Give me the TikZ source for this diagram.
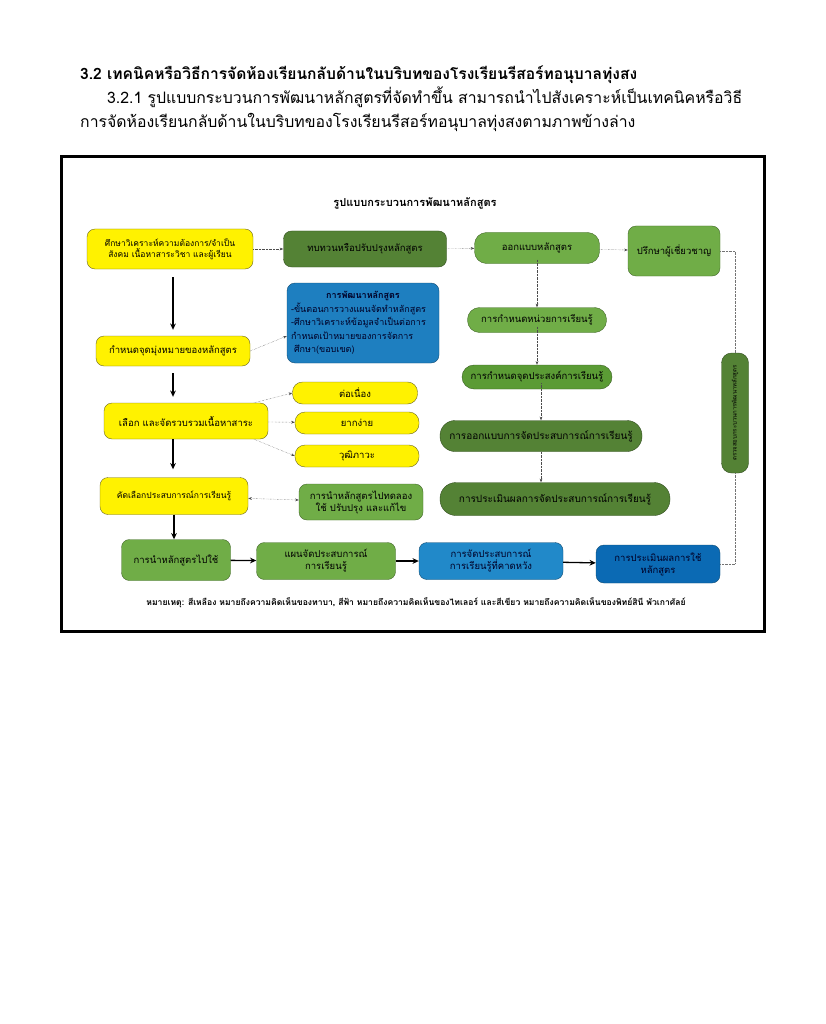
\documentclass[tikz,border=0pt]{standalone}
\usepackage{fontspec}
\setmainfont{Loma}[Script=Thai]
\usetikzlibrary{arrows.meta, positioning, calc}

\definecolor{lgr}{HTML}{70AD47}
\definecolor{mgr}{HTML}{5B9B35}
\definecolor{dgr}{HTML}{548235}
\definecolor{bl}{HTML}{1E7FC0}
\definecolor{bla}{HTML}{2189C9}
\definecolor{blb}{HTML}{0B6AB4}

\begin{document}
\begin{tikzpicture}[x=1pt, y=-1pt,
  box/.style={draw, rounded corners=8pt, align=center, inner sep=2pt, font=\fontsize{9.5}{12}\selectfont},
  yel/.style={box, fill=yellow, draw=olive!70!black},
  lgreen/.style={box, fill=lgr, draw=lgr!60!black},
  mgreen/.style={box, fill=mgr, draw=mgr!60!black},
  dgreen/.style={box, fill=dgr, draw=dgr!60!black},
  blu/.style={box, draw=bl!60!black, text=blue!15!black},
  flow/.style={-{Stealth[length=2.2mm, width=2mm]}, line width=1.3pt},
  link/.style={-{Stealth[length=1.3mm]}, densely dotted, black!70},
  back/.style={densely dotted, black!55}
]
  \useasboundingbox (0,0) rectangle (825,1024);

  % Heading text
  \node[anchor=base west, font=\bfseries\fontsize{15.6}{18}\selectfont, inner sep=0] (sec) at (80,80)
    {3.2 เทคนิคหรือวิธีการจัดห้องเรียนกลับด้านในบริบทของโรงเรียนรีสอร์ทอนุบาลทุ่งสง};
  \node[anchor=base west, font=\fontsize{15.8}{18}\selectfont, inner sep=0] (par1) at (107,104)
    {3.2.1 รูปแบบกระบวนการพัฒนาหลักสูตรที่จัดทำขึ้น สามารถนำไปสังเคราะห์เป็นเทคนิคหรือวิธี};
  \node[anchor=base west, font=\fontsize{15.8}{18}\selectfont, inner sep=0] (par2) at (80,128)
    {การจัดห้องเรียนกลับด้านในบริบทของโรงเรียนรีสอร์ทอนุบาลทุ่งสงตามภาพข้างล่าง};

  % Frame
  \draw[line width=3pt] (61,157) rectangle (764,631);

  \node[font=\bfseries\fontsize{11}{13}\selectfont] (title) at (415,203) {รูปแบบกระบวนการพัฒนาหลักสูตร};

  % Left column (yellow)
  \node[yel, minimum width=166pt, minimum height=40pt, font=\fontsize{8.5}{11.5}\selectfont] (study) at (170,249)
    {ศึกษาวิเคราะห์ความต้องการ/จำเป็น\\สังคม เนื้อหาสาระวิชา และผู้เรียน};
  \node[yel, minimum width=154pt, minimum height=30pt] (aim) at (173,351) {กำหนดจุดมุ่งหมายของหลักสูตร};
  \node[yel, minimum width=164pt, minimum height=36pt] (select) at (186,421) {เลือก และจัดรวบรวมเนื้อหาสาระ};
  \node[yel, minimum width=148pt, minimum height=37pt, font=\fontsize{8.5}{11}\selectfont] (exper) at (174,496) {คัดเลือกประสบการณ์การเรียนรู้};

  % Content criteria
  \node[yel, rounded corners=10pt, minimum width=125pt, minimum height=22pt] (cont) at (355,393) {ต่อเนื่อง};
  \node[yel, rounded corners=10pt, minimum width=124pt, minimum height=22pt] (diff) at (357,423) {ยากง่าย};
  \node[yel, rounded corners=10pt, minimum width=124pt, minimum height=22pt] (matur) at (357,456) {วุฒิภาวะ};

  % Middle column
  \node[dgreen, minimum width=163pt, minimum height=36pt] (review) at (365,249) {ทบทวนหรือปรับปรุงหลักสูตร};
  \node[blu, fill=bl, minimum width=152pt, minimum height=80pt, text width=144pt, inner sep=4pt, align=left,
        font=\fontsize{9}{13.5}\selectfont] (devel) at (363,323)
    {\makebox[144pt]{\textbf{การพัฒนาหลักสูตร}}\\-ขั้นตอนการวางแผนจัดทำหลักสูตร\\ -ศึกษาวิเคราะห์ข้อมูลจำเป็นต่อการ\\ กำหนดเป้าหมายของการจัดการ\\ \ ศึกษา(ขอบเขต)};
  \node[lgreen, minimum width=124pt, minimum height=36pt] (trial) at (361,502)
    {การนำหลักสูตรไปทดลอง\\ใช้ ปรับปรุง และแก้ไข};

  % Design column
  \node[lgreen, rounded corners=12pt, minimum width=125pt, minimum height=31pt] (design) at (537,248) {ออกแบบหลักสูตร};
  \node[lgreen, rounded corners=12pt, minimum width=139pt, minimum height=25pt] (unit) at (537,320) {การกำหนดหน่วยการเรียนรู้};
  \node[mgreen, rounded corners=12pt, minimum width=150pt, minimum height=24pt] (objec) at (537,377) {การกำหนดจุดประสงค์การเรียนรู้};
  \node[dgreen, rounded corners=15pt, minimum width=202pt, minimum height=31pt, font=\fontsize{10}{12}\selectfont] (plan) at (541,436) {การออกแบบการจัดประสบการณ์การเรียนรู้};
  \node[dgreen, rounded corners=16pt, minimum width=230pt, minimum height=33pt, font=\fontsize{10}{12}\selectfont] (assess) at (555,499) {การประเมินผลการจัดประสบการณ์การเรียนรู้};

  % Right column
  \node[lgreen, minimum width=92pt, minimum height=50pt] (advice) at (674,251) {ปรึกษาผู้เชี่ยวชาญ};
  \node[dgreen, rotate=90, rounded corners=10pt, minimum width=120pt, minimum height=27pt, font=\fontsize{6}{7}\selectfont] (check) at (735,413)
    {ตรวจสอบกระบวนการพัฒนาหลักสูตร};

  % Bottom row
  \node[lgreen, minimum width=109pt, minimum height=41pt] (apply) at (176,560) {การนำหลักสูตรไปใช้};
  \node[lgreen, minimum width=139pt, minimum height=37pt] (lesson) at (326,561) {แผนจัดประสบการณ์\\การเรียนรู้};
  \node[blu, fill=bla, minimum width=144pt, minimum height=37pt] (expect) at (491,561) {การจัดประสบการณ์\\การเรียนรู้ที่คาดหวัง};
  \node[blu, fill=blb, minimum width=124pt, minimum height=38pt] (evalu) at (658,564) {การประเมินผลการใช้\\หลักสูตร};

  % Note
  \node[font=\bfseries\fontsize{8.6}{10}\selectfont] (note) at (416,603)
    {หมายเหตุ: สีเหลือง หมายถึงความคิดเห็นของทาบา, สีฟ้า หมายถึงความคิดเห็นของไทเลอร์ และสีเขียว หมายถึงความคิดเห็นของพิทย์สินี พัวเกาศัลย์};

  % Main flow
  \draw[flow] ([yshift=-8pt]study.south -| aim.north) -- ([yshift=6pt]aim.north);
  \draw[flow] ([yshift=-7pt]aim.south) -- ([yshift=6pt]select.north -| aim.south);
  \draw[flow] (select.south -| aim.south) -- ([yshift=8pt]exper.north -| aim.south);
  \draw[flow] (exper.south) -- (apply.north -| exper.south);
  \foreach \a/\b in {apply/lesson, lesson/expect, expect/evalu}
    \draw[flow] (\a) -- (\b);

  % Dotted links
  \draw[link] (study) -- (review);
  \draw[link] (review) -- (design);
  \draw[link] (design) -- (advice);
  \draw[link] (aim.east) -- (devel.west |- 0,336);
  \draw[link] (select.15) -- (cont.west);
  \draw[link] (select) -- (diff);
  \draw[link] (select.-15) -- (matur.west);
  \draw[link, {Stealth[length=1.3mm]}-{Stealth[length=1.3mm]}] (exper) -- (trial);
  \draw[link] ([yshift=4pt]design.south) -- (unit.north -| design.south);
  \draw[link] ([yshift=6pt]unit.south) -- (objec.north -| unit.south);
  \draw[link] ([yshift=6pt]objec.south -| plan.south) -- (plan.north);
  \draw[link] (plan.south) -- (plan.south |- assess.north);
  \draw[back] (advice.east) -| (check.east);
  \draw[back] (check.west) |- (evalu.east);
\end{tikzpicture}
\end{document}
